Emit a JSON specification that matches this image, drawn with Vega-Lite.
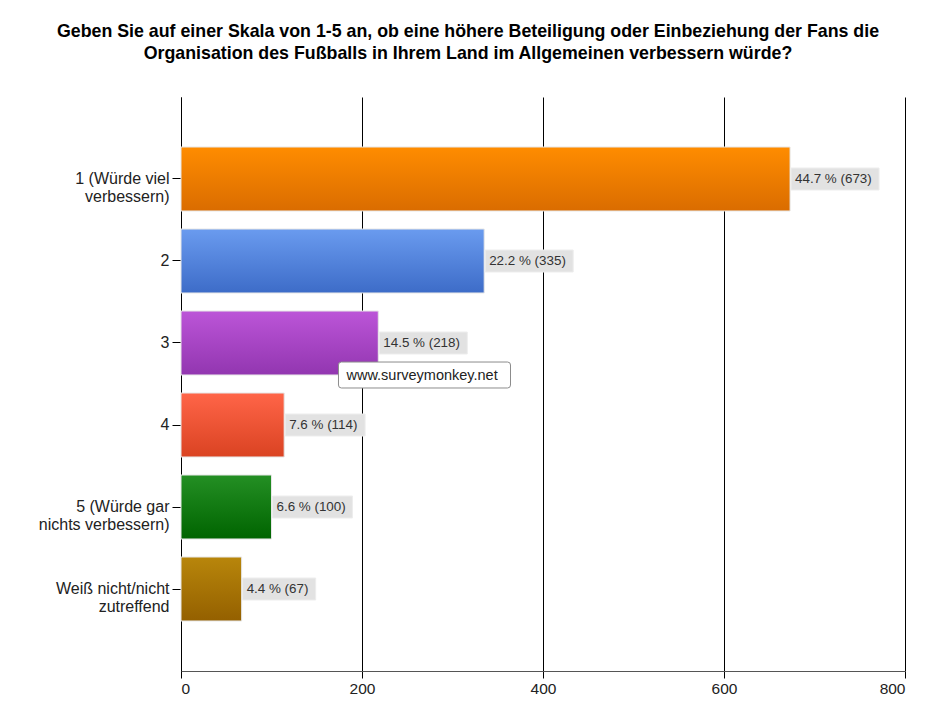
{
  "$schema": "https://vega.github.io/schema/vega-lite/v6.json",
  "width": 724,
  "height": 574,
  "autosize": {"type": "none"},
  "padding": {"left": 181, "top": 97, "right": 32, "bottom": 44},
  "background": "white",
  "title": {
    "text": ["Geben Sie auf einer Skala von 1-5 an, ob eine höhere Beteiligung oder Einbeziehung der Fans die", "Organisation des Fußballs in Ihrem Land im Allgemeinen verbessern würde?"],
    "anchor": "middle",
    "dx": -75,
    "offset": 34,
    "font": "Liberation Sans",
    "fontSize": 17.8,
    "fontWeight": "bold",
    "color": "#000000",
    "lineHeight": 22
  },
  "config": {
    "view": {"stroke": null},
    "axis": {"labelFont": "Liberation Sans", "titleFont": "Liberation Sans"}
  },
  "data": {
    "values": [
      {"answer": "1 (Würde viel\nverbessern)", "count": 673, "label": "44.7 % (673)"},
      {"answer": "2", "count": 335, "label": "22.2 % (335)"},
      {"answer": "3", "count": 218, "label": "14.5 % (218)"},
      {"answer": "4", "count": 114, "label": "7.6 % (114)"},
      {"answer": "5 (Würde gar\nnichts verbessern)", "count": 100, "label": "6.6 % (100)"},
      {"answer": "Weiß nicht/nicht\nzutreffend", "count": 67, "label": "4.4 % (67)"}
    ]
  },
  "encoding": {
    "y": {
      "field": "answer",
      "type": "nominal",
      "sort": null,
      "scale": {
        "domain": ["1 (Würde viel\nverbessern)", "2", "3", "4", "5 (Würde gar\nnichts verbessern)", "Weiß nicht/nicht\nzutreffend"],
        "paddingInner": 0.22,
        "paddingOuter": 0.61
      },
      "axis": {
        "title": null,
        "labelExpr": "split(datum.label, '\\n')",
        "labelFontSize": 16,
        "labelColor": "#222222",
        "labelLineHeight": 18,
        "labelPadding": 3,
        "tickSize": 9,
        "tickColor": "#000000",
        "domainColor": "#000000",
        "labelAlign": "right"
      }
    },
    "x": {
      "field": "count",
      "type": "quantitative",
      "scale": {"domain": [0, 800], "nice": false},
      "axis": {
        "title": null,
        "values": [0, 200, 400, 600, 800],
        "grid": true,
        "gridColor": "#000000",
        "gridOpacity": 1,
        "gridWidth": 1,
        "tickSize": 7,
        "tickColor": "#000000",
        "domainColor": "#555555",
        "labelFontSize": 15.5,
        "labelColor": "#222222",
        "labelPadding": 3
      }
    }
  },
  "layer": [
    {
      "mark": {"type": "bar", "stroke": "#e6e6e6", "strokeWidth": 1},
      "encoding": {
        "fill": {
          "condition": [
            {"test": "indexof(datum.answer, '1 (') === 0", "value": {"gradient": "linear", "x1": 0, "y1": 0, "x2": 0, "y2": 1, "stops": [{"offset": 0, "color": "#FF8C00"}, {"offset": 1, "color": "#DA6C00"}]}},
            {"test": "datum.answer === '2'", "value": {"gradient": "linear", "x1": 0, "y1": 0, "x2": 0, "y2": 1, "stops": [{"offset": 0, "color": "#6A9BEF"}, {"offset": 1, "color": "#3D6CC8"}]}},
            {"test": "datum.answer === '3'", "value": {"gradient": "linear", "x1": 0, "y1": 0, "x2": 0, "y2": 1, "stops": [{"offset": 0, "color": "#BC55D8"}, {"offset": 1, "color": "#9236B0"}]}},
            {"test": "datum.answer === '4'", "value": {"gradient": "linear", "x1": 0, "y1": 0, "x2": 0, "y2": 1, "stops": [{"offset": 0, "color": "#FF6548"}, {"offset": 1, "color": "#DA4322"}]}},
            {"test": "indexof(datum.answer, '5 (') === 0", "value": {"gradient": "linear", "x1": 0, "y1": 0, "x2": 0, "y2": 1, "stops": [{"offset": 0, "color": "#248F24"}, {"offset": 1, "color": "#006400"}]}}
          ],
          "value": {"gradient": "linear", "x1": 0, "y1": 0, "x2": 0, "y2": 1, "stops": [{"offset": 0, "color": "#B8860B"}, {"offset": 1, "color": "#946000"}]}
        }
      }
    },
    {
      "mark": {"type": "point", "filled": true, "size": 484, "fill": "#E2E2E2", "stroke": "#EDEDED", "strokeWidth": 1, "opacity": 1},
      "encoding": {
        "shape": {
          "field": "label",
          "type": "nominal",
          "legend": null,
          "scale": {
            "domain": ["44.7 % (673)", "22.2 % (335)", "14.5 % (218)", "7.6 % (114)", "6.6 % (100)", "4.4 % (67)"],
            "range": ["M0.09,-1H8.09V1H0.09Z", "M0.09,-1H8.09V1H0.09Z", "M0.09,-1H8.09V1H0.09Z", "M0.09,-1H7.36V1H0.09Z", "M0.09,-1H7.36V1H0.09Z", "M0.09,-1H6.73V1H0.09Z"]
          }
        }
      }
    },
    {
      "mark": {"type": "text", "align": "left", "baseline": "middle", "dx": 5, "font": "Liberation Sans", "fontSize": 13.4, "fill": "#333333"},
      "encoding": {"text": {"field": "label"}}
    },
    {
      "data": {"values": [{"answer": "3", "count": 174, "note": "www.surveymonkey.net"}]},
      "layer": [
        {
          "mark": {"type": "point", "filled": true, "size": 484, "fill": "#FFFFFF", "stroke": "#8C8C8C", "strokeWidth": 1, "opacity": 1, "shape": "M0.27,1.73H15.37Q15.64,1.73 15.64,2V3.82Q15.64,4.09 15.37,4.09H0.27Q0,4.09 0,3.82V2Q0,1.73 0.27,1.73Z"},
          "encoding": {}
        },
        {
          "mark": {"type": "text", "align": "left", "baseline": "middle", "dx": 8, "dy": 33, "font": "Liberation Sans", "fontSize": 14.5, "fill": "#222222"},
          "encoding": {"text": {"field": "note"}}
        }
      ]
    }
  ]
}
